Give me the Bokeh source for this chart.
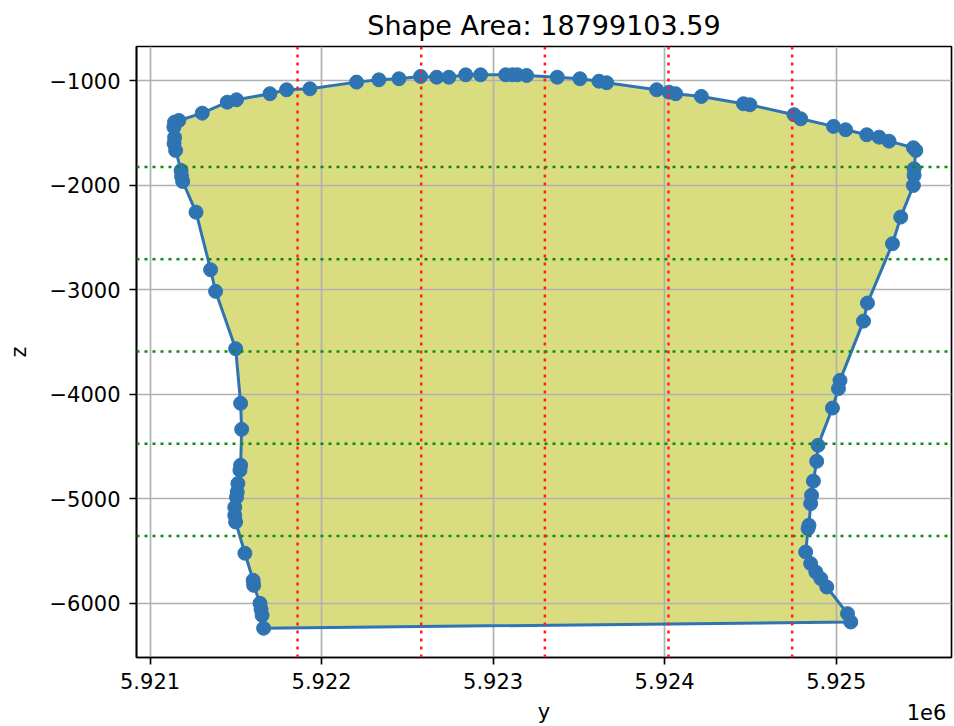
from bokeh.plotting import figure
from bokeh.models import Span, FixedTicker, Range1d, LinearAxis
from bokeh.embed import file_html
from bokeh.resources import INLINE

title_text = "Shape Area: 18799103.59"

# horizontal coordinate ("y") of the outline points
y_vals = [5921662, 5921653, 5921647, 5921641, 5921604, 5921601, 5921553, 5921499,
          5921494, 5921494, 5921504, 5921508, 5921512, 5921524, 5921528, 5921534,
          5921528, 5921499, 5921382, 5921353, 5921268, 5921190, 5921184, 5921181,
          5921149, 5921140, 5921143, 5921139, 5921143, 5921168, 5921304, 5921450,
          5921504, 5921699, 5921796, 5921932, 5922204, 5922334, 5922451, 5922577,
          5922671, 5922742, 5922840, 5922927, 5923073, 5923112, 5923141, 5923195,
          5923374, 5923506, 5923617, 5923662, 5923953, 5924025, 5924064, 5924214,
          5924459, 5924497, 5924754, 5924793, 5924984, 5925055, 5925178, 5925250,
          5925308, 5925450, 5925464, 5925454, 5925454, 5925450, 5925376, 5925328,
          5925182, 5925159, 5925022, 5925013, 5924978, 5924894, 5924886, 5924867,
          5924856, 5924851, 5924841, 5924836, 5924822, 5924851, 5924881, 5924910,
          5924945, 5925066, 5925085]

# vertical coordinate ("z") of the outline points
z_vals = [-6239, -6115, -6057, -6000, -5828, -5780, -5521, -5222,
          -5158, -5081, -4986, -4935, -4854, -4727, -4679, -4335,
          -4086, -3563, -3014, -2807, -2256, -1962, -1914, -1856,
          -1665, -1598, -1541, -1442, -1394, -1378, -1308, -1203,
          -1180, -1122, -1084, -1075, -1011, -989, -979, -957,
          -964, -964, -941, -941, -941, -941, -941, -947,
          -964, -979, -1002, -1017, -1084, -1107, -1122, -1148,
          -1218, -1228, -1323, -1362, -1435, -1467, -1515, -1538,
          -1576, -1639, -1665, -1840, -1904, -2000, -2303, -2558,
          -3126, -3299, -3866, -3945, -4131, -4488, -4641, -4830,
          -4966, -5046, -5253, -5285, -5509, -5620, -5700, -5764,
          -5844, -6099, -6179]

x_ticks = [5921000, 5922000, 5923000, 5924000, 5925000]
x_tick_labels = ["5.921", "5.922", "5.923", "5.924", "5.925"]
z_ticks = [-6000, -5000, -4000, -3000, -2000, -1000]
z_tick_labels = ["\u22126000", "\u22125000", "\u22124000", "\u22123000", "\u22122000", "\u22121000"]
n_div = 6
offset_text = "1e6"

BLUE = "#2f74b2"
FONT = "DejaVu Sans"
LW = 1.66

x_lo, x_hi = 5920921, 5925672
z_lo, z_hi = -6519, -670
FRAME_W = 815

p = figure(width=954, height=726, output_backend="svg", toolbar_location=None,
           x_range=Range1d(x_lo, x_hi), y_range=Range1d(z_lo, z_hi),
           min_border_left=136, min_border_right=3, min_border_top=46,
           min_border_bottom=69, title=title_text)

p.background_fill_color = "white"
p.border_fill_color = "white"
p.outline_line_color = "black"
p.outline_line_width = LW
p.outline_line_alpha = 1.0

p.title.text_font = FONT
p.title.text_font_size = "27px"
p.title.text_font_style = "normal"
p.title.text_color = "black"
p.title.align = "center"
p.title.standoff = 11

# filled polygon (below the grid)
patch = p.patch(y_vals, z_vals, fill_color="#dadc80", line_color=None)
patch.level = "image"

# outline, closed back to the first point
p.line(y_vals + [y_vals[0]], z_vals + [z_vals[0]], line_color=BLUE, line_width=3)
p.scatter(y_vals, z_vals, size=14, fill_color=BLUE, line_color=BLUE)

# division lines
ymin, ymax = min(y_vals), max(y_vals)
zmin, zmax = min(z_vals), max(z_vals)
for k in range(1, n_div):
    p.add_layout(Span(location=ymin + k * (ymax - ymin) / n_div, dimension="height",
                      line_color="#ff2020", line_dash="3 5", line_width=2.5))
    p.add_layout(Span(location=zmin + k * (zmax - zmin) / n_div, dimension="width",
                      line_color="#108a10", line_dash="3 5", line_width=2.5))

p.xaxis.ticker = FixedTicker(ticks=x_ticks)
p.xaxis.major_label_overrides = {t: s for t, s in zip(x_ticks, x_tick_labels)}
p.yaxis.ticker = FixedTicker(ticks=z_ticks)
p.yaxis.major_label_overrides = {t: s for t, s in zip(z_ticks, z_tick_labels)}

p.xaxis.axis_label = "y"
p.yaxis.axis_label = "z"

for ax in (p.xaxis[0], p.yaxis[0]):
    ax.major_label_text_font = FONT
    ax.major_label_text_font_size = "21px"
    ax.major_label_text_color = "black"
    ax.axis_label_text_font = FONT
    ax.axis_label_text_font_size = "21px"
    ax.axis_label_text_font_style = "normal"
    ax.axis_label_text_color = "black"
    ax.major_tick_out = 7
    ax.major_tick_in = 0
    ax.minor_tick_out = 0
    ax.minor_tick_in = 0
    ax.major_tick_line_width = LW
    ax.major_tick_line_color = "black"
    ax.axis_line_width = LW
    ax.axis_line_color = "black"

p.xaxis[0].major_label_standoff = 8
p.yaxis[0].major_label_standoff = 9
p.xaxis[0].axis_label_standoff = 8
p.yaxis[0].axis_label_standoff = 15

for g in (p.xgrid[0], p.ygrid[0]):
    g.grid_line_color = "#b0b0b0"
    g.grid_line_width = LW

# scale-offset text ("1e6") at the lower right, as the single label of a bare axis
offset_pos = round(x_hi - 25 * (x_hi - x_lo) / FRAME_W)
offset_axis = LinearAxis(ticker=FixedTicker(ticks=[offset_pos]),
                         major_label_overrides={offset_pos: offset_text},
                         major_tick_out=0, major_tick_in=0,
                         minor_tick_out=0, minor_tick_in=0,
                         major_tick_line_color=None, minor_tick_line_color=None,
                         axis_line_color=None,
                         major_label_standoff=-23,
                         major_label_text_font=FONT,
                         major_label_text_font_size="21px",
                         major_label_text_color="black")
p.add_layout(offset_axis, "below")

open("out.html", "w").write(file_html(p, INLINE))
